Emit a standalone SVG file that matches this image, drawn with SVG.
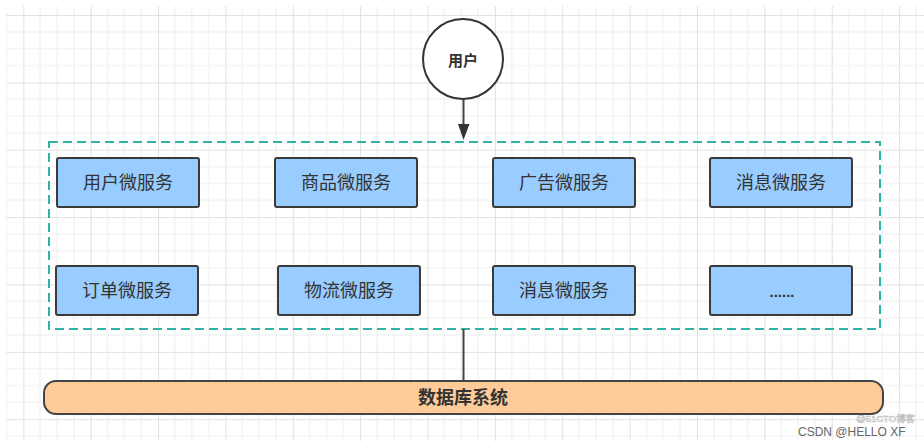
<svg xmlns="http://www.w3.org/2000/svg" width="924" height="441" viewBox="0 0 924 441">
<style>
.box{fill:#99CCFF;stroke:#3a3a3a;stroke-width:2}
.lbl{font-family:"Liberation Sans","Noto Sans CJK SC",sans-serif;font-size:18px;fill:#333333;text-anchor:middle;dominant-baseline:central}
.conn{stroke:#444444;stroke-width:2;fill:none}
</style>
<defs>
<pattern id="grid" patternUnits="userSpaceOnUse" x="23.3" y="15" width="67.37" height="67.37">
<path d="M16.84 0V67.37M33.68 0V67.37M50.53 0V67.37M0 16.84H67.37M0 33.68H67.37M0 50.53H67.37" stroke="#eeeeee" stroke-width="1" fill="none"/>
<path d="M0.5 0V67.37M0 0.5H67.37" stroke="#e1e1e1" stroke-width="1" fill="none"/>
</pattern>
</defs>
<rect width="924" height="441" fill="#ffffff"/>
<rect x="6" y="6" width="918" height="435" fill="url(#grid)"/>

<g id="container">
<rect x="49" y="142" width="831" height="187" fill="none" stroke="#2fb3a8" stroke-width="2" stroke-dasharray="9 5"/>
</g>

<g id="connectors">
<line x1="463.5" y1="99" x2="463.5" y2="124" class="conn"/>
<path d="M458 124L463.5 140L469.5 124Z" fill="#333333"/>
<line x1="463.5" y1="329" x2="463.5" y2="381" class="conn"/>
</g>

<g id="user">
<circle cx="463" cy="59" r="40" fill="#ffffff" stroke="#333333" stroke-width="2"/>
<text x="463" y="60" class="lbl" style="font-size:15px;font-weight:bold">用户</text>
</g>

<g id="svc-user"><rect class="box" x="57" y="158" width="142" height="49" rx="2"/><text class="lbl" x="128" y="183">用户微服务</text></g>
<g id="svc-goods"><rect class="box" x="275" y="158" width="142" height="49" rx="2"/><text class="lbl" x="346" y="183">商品微服务</text></g>
<g id="svc-ad"><rect class="box" x="493" y="158" width="142" height="49" rx="2"/><text class="lbl" x="564" y="183">广告微服务</text></g>
<g id="svc-msg1"><rect class="box" x="710" y="158" width="142" height="49" rx="2"/><text class="lbl" x="781" y="183">消息微服务</text></g>

<g id="svc-order"><rect class="box" x="56" y="266" width="142" height="49" rx="2"/><text class="lbl" x="127" y="291">订单微服务</text></g>
<g id="svc-logistics"><rect class="box" x="278" y="266" width="142" height="49" rx="2"/><text class="lbl" x="349" y="291">物流微服务</text></g>
<g id="svc-msg2"><rect class="box" x="493" y="266" width="142" height="49" rx="2"/><text class="lbl" x="564" y="291">消息微服务</text></g>
<g id="svc-more"><rect class="box" x="710" y="266" width="142" height="49" rx="2"/><text x="782" y="297" style="font-family:'Liberation Sans',sans-serif;font-size:15px;font-weight:bold;fill:#333333;text-anchor:middle">......</text></g>

<g id="db">
<rect x="44" y="381" width="839" height="33" rx="12" fill="#FFCC99" stroke="#444444" stroke-width="2"/>
<text class="lbl" x="463" y="398" style="font-weight:bold">数据库系统</text>
</g>

<g id="watermark">
<text x="856" y="422" style="font-family:'Liberation Sans','Noto Sans CJK SC',sans-serif;font-size:9.5px;fill:#f4f4f4;stroke:#bdbdbd;stroke-width:0.5">@51CTO博客</text>
<text x="798" y="436" style="font-family:'Liberation Sans','Noto Sans CJK SC',sans-serif;font-size:12px;fill:#666666">CSDN @HELLO XF</text>
</g>
</svg>
